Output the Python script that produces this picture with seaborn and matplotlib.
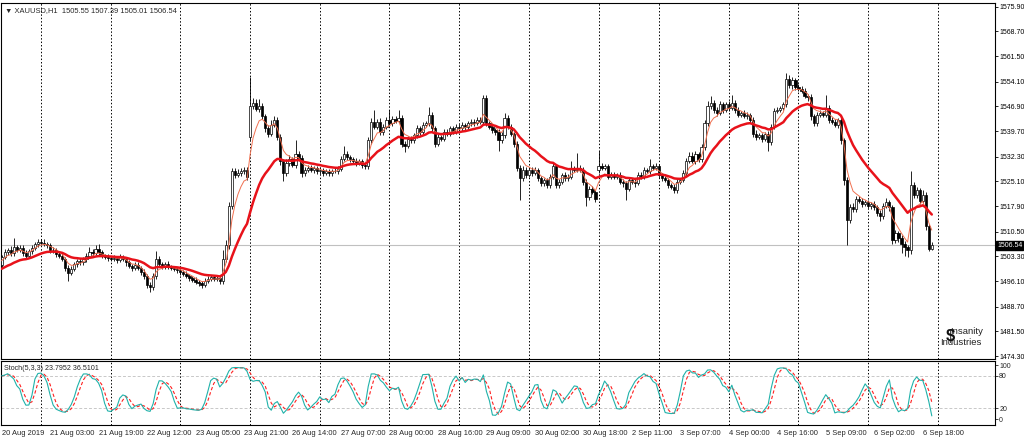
import numpy as np
import pandas as pd
import matplotlib
matplotlib.use("Agg")
import matplotlib.pyplot as plt
import seaborn as sns

# ---------------- data ----------------
symbol_text = "XAUUSD,H1  1505.55 1507.39 1505.01 1506.54"
stoch_text = "Stoch(5,3,3) 23.7952 36.5101"

# trading days: (date, first hour, number of hourly bars)
day_specs = [("2019-08-20", 10, 13), ("2019-08-21", 0, 23), ("2019-08-22", 0, 23),
             ("2019-08-23", 0, 23), ("2019-08-26", 0, 23), ("2019-08-27", 0, 23),
             ("2019-08-28", 0, 23), ("2019-08-29", 0, 23), ("2019-08-30", 0, 23),
             ("2019-09-02", 0, 20), ("2019-09-03", 0, 23), ("2019-09-04", 0, 23),
             ("2019-09-05", 0, 23), ("2019-09-06", 0, 22)]

close_0820 = [1503, 1504.5, 1505, 1504.2, 1506, 1505.2, 1505.8, 1504.3, 1503.5, 1504.8, 1505.8, 1507, 1507.5]
close_0821 = [1507.3, 1507, 1506.5, 1505.2, 1505, 1504, 1503.5, 1502.5, 1500, 1498.5, 1499.5, 1501, 1502,
              1501.5, 1502.5, 1503.5, 1504.5, 1504.2, 1505.5, 1504.5, 1503.5, 1503.2, 1502.8]
close_0822 = [1502.5, 1502.8, 1502.2, 1503, 1502.5, 1501.5, 1500.5, 1499.8, 1500.8, 1500, 1498.8, 1497.5,
              1495, 1494.3, 1497.5, 1502.5, 1501, 1500.3, 1501, 1500.2, 1500, 1499.5, 1499.2]
close_0823 = [1498.8, 1498.2, 1497.5, 1497, 1496.5, 1495.8, 1495.5, 1495, 1496, 1496.8, 1497.2, 1496.8,
              1497, 1496, 1502.5, 1506.5, 1518, 1528, 1527, 1527.5, 1528, 1528.5, 1526.5]
close_0826 = [1547, 1547.8, 1546.2, 1547, 1544, 1540.5, 1539, 1541.5, 1543, 1538, 1531, 1527.5, 1530.5,
              1531.5, 1530, 1533, 1532, 1527.5, 1528.5, 1529, 1528.3, 1529, 1528]
close_0827 = [1528.5, 1527.5, 1528, 1527.5, 1528.2, 1528, 1528.8, 1531.5, 1533, 1532.2, 1531.5, 1531,
              1530.5, 1531, 1530, 1529.5, 1537, 1542.5, 1541, 1542.5, 1539.5, 1541, 1543]
close_0828 = [1542, 1543.3, 1542.8, 1543.5, 1536, 1535.5, 1537.5, 1537, 1538.5, 1540.5, 1539.5, 1541.5,
              1542, 1544.5, 1540.5, 1536, 1538, 1537.5, 1539.5, 1539, 1540.5, 1539.5, 1541]
close_0829 = [1540.5, 1541.5, 1540.8, 1542, 1542.5, 1542, 1543, 1542.5, 1549.3, 1542, 1541, 1540, 1539.5,
              1537, 1538.5, 1543.5, 1541, 1539, 1536, 1529, 1526, 1528.5, 1527]
close_0830 = [1528.5, 1527.5, 1528.5, 1526, 1524.5, 1525.5, 1524, 1526.5, 1529.5, 1524, 1525, 1527, 1526,
              1526.5, 1529, 1528.5, 1529, 1528.5, 1525, 1520.5, 1523, 1522, 1520]
close_0902 = [1529.5, 1529, 1529.5, 1526.5, 1527, 1526.5, 1527, 1525, 1524.5, 1523, 1525.5, 1525, 1524.5,
              1527, 1526.5, 1528.5, 1528, 1529.5, 1529, 1529.5]
close_0903 = [1527, 1526, 1525.5, 1524, 1523.5, 1522.5, 1525, 1525.5, 1527.5, 1531, 1532.5, 1531, 1533,
              1531.5, 1535, 1542, 1547, 1548, 1546, 1545, 1547.5, 1546, 1547.5]
close_0904 = [1546.5, 1548, 1546, 1544.5, 1545, 1544, 1544.5, 1543, 1539, 1538, 1538.5, 1537.5, 1539,
              1536.5, 1541, 1545.5, 1546, 1546.5, 1547.5, 1555, 1553, 1554.5, 1552.5]
close_0905 = [1552, 1551.5, 1550, 1549.5, 1544, 1542, 1544.5, 1545, 1544.5, 1546.5, 1543, 1542.5, 1541.5,
              1543, 1537, 1525.5, 1514, 1517.5, 1517, 1520, 1519.5, 1518.5, 1519]
close_0906 = [1518, 1518.5, 1517.5, 1516, 1515, 1518, 1519, 1517.5, 1508, 1510, 1508.5, 1507, 1506, 1505,
              1524, 1521, 1522.5, 1519.5, 1521, 1512, 1505.55, 1506.54]

# wick lengths above / below the body
up_0820 = [0.8, 1.0, 0.7, 1.2, 2.7, 0.6, 0.9, 0.7, 0.8, 0.6, 0.9, 0.6, 0.8]
dn_0820 = [1.0, 0.6, 0.8, 0.7, 0.9, 0.7, 0.6, 0.8, 0.9, 0.6, 0.7, 0.6, 0.9]
up_0821 = [0.7, 0.9, 0.6, 0.8, 0.7, 0.6, 0.8, 0.7, 0.6, 0.8, 0.9, 0.7, 0.6, 0.9, 0.7, 0.8, 1.5, 0.9, 1.1, 1.5, 0.7, 0.6, 0.8]
dn_0821 = [0.6, 0.8, 0.7, 0.9, 0.6, 0.8, 0.7, 0.6, 0.9, 2.5, 0.7, 0.6, 0.8, 0.7, 0.6, 0.8, 0.7, 0.9, 0.6, 0.8, 0.7, 0.6, 0.8]
up_0822 = [0.6, 0.8, 0.7, 0.9, 0.6, 0.7, 0.8, 0.6, 0.9, 0.7, 0.6, 0.8, 0.7, 0.9, 1.0, 2.2, 0.8, 0.7, 0.6, 0.8, 0.7, 0.6, 0.7]
dn_0822 = [0.7, 0.6, 0.8, 0.7, 0.6, 0.9, 0.7, 0.8, 0.6, 0.7, 0.9, 0.8, 1.0, 1.3, 0.8, 0.9, 0.7, 0.8, 0.6, 0.7, 0.8, 0.6, 0.7]
up_0823 = [0.7, 0.6, 0.8, 0.7, 0.6, 0.8, 0.7, 0.6, 0.9, 0.7, 0.8, 0.6, 0.7, 0.8, 2.5, 1.5, 1.2, 1.0, 0.9, 1.2, 1.0, 0.8, 0.7]
dn_0823 = [0.8, 0.7, 0.6, 0.8, 0.7, 0.6, 0.8, 0.9, 0.7, 0.6, 0.8, 0.7, 0.6, 0.8, 0.7, 0.9, 1.0, 0.8, 1.0, 0.7, 0.8, 0.9, 1.0]
up_0826 = [8.6, 1.6, 1.2, 2.0, 0.9, 0.8, 1.0, 1.5, 1.2, 0.9, 0.8, 0.7, 1.0, 1.2, 0.8, 4.2, 0.9, 0.8, 0.7, 0.9, 0.8, 0.7, 0.6]
dn_0826 = [1.0, 0.8, 0.7, 0.9, 0.8, 1.0, 0.9, 0.8, 0.7, 1.0, 1.2, 2.4, 0.9, 0.8, 0.7, 0.9, 0.8, 1.0, 0.7, 0.8, 0.6, 0.7, 0.8]
up_0827 = [0.7, 0.6, 0.8, 0.7, 0.6, 0.8, 0.7, 0.9, 2.5, 0.8, 0.7, 0.6, 0.8, 0.7, 0.6, 0.7, 1.0, 0.9, 3.3, 0.8, 0.9, 0.7, 0.8]
dn_0827 = [0.8, 0.7, 0.6, 0.8, 0.7, 0.6, 0.8, 0.7, 0.6, 0.8, 0.7, 0.6, 0.8, 0.7, 0.9, 0.8, 0.7, 0.9, 0.8, 0.7, 1.0, 0.8, 0.7]
up_0828 = [3.0, 0.8, 0.7, 2.5, 0.8, 0.9, 0.7, 0.8, 0.6, 0.9, 0.7, 0.8, 0.6, 2.2, 0.9, 0.7, 0.8, 0.6, 0.7, 0.8, 0.6, 0.7, 0.8]
dn_0828 = [0.7, 0.8, 0.6, 0.7, 0.9, 1.8, 0.7, 0.8, 0.6, 0.7, 0.8, 0.6, 0.7, 0.8, 0.9, 1.0, 0.7, 0.8, 0.6, 0.7, 0.8, 0.7, 0.6]
up_0829 = [0.7, 0.8, 0.6, 0.7, 0.8, 0.6, 0.7, 0.8, 1.0, 0.9, 0.7, 0.8, 0.6, 0.7, 0.9, 1.6, 0.8, 0.7, 0.6, 0.8, 0.9, 1.0, 0.7]
dn_0829 = [0.6, 0.7, 0.8, 0.6, 0.7, 0.8, 0.6, 0.7, 0.8, 0.9, 0.7, 0.8, 0.9, 3.2, 0.8, 0.7, 0.6, 0.8, 0.9, 1.0, 6.3, 0.9, 0.8]
up_0830 = [0.8, 0.7, 0.9, 0.6, 0.8, 0.7, 0.6, 0.8, 1.0, 0.7, 0.8, 0.6, 0.7, 0.8, 2.0, 0.7, 4.4, 0.8, 0.7, 0.9, 0.8, 0.7, 0.6]
dn_0830 = [0.7, 0.8, 0.6, 0.9, 0.7, 0.8, 0.9, 0.7, 0.6, 0.8, 0.7, 0.6, 0.8, 0.7, 0.6, 0.8, 0.7, 0.6, 0.9, 2.5, 0.8, 0.7, 1.0]
up_0902 = [4.3, 0.8, 0.7, 0.6, 0.8, 0.7, 0.6, 0.8, 0.7, 0.6, 0.9, 0.7, 0.8, 0.9, 0.7, 0.8, 0.6, 2.0, 0.7, 0.8]
dn_0902 = [0.8, 0.7, 0.6, 0.8, 0.7, 0.6, 0.8, 0.7, 0.9, 3.3, 0.8, 0.7, 0.9, 0.6, 0.8, 0.7, 0.6, 0.8, 0.7, 0.6]
up_0903 = [0.7, 0.6, 0.8, 0.7, 0.6, 0.8, 0.9, 0.7, 0.8, 0.9, 1.0, 1.2, 0.8, 0.7, 0.9, 1.0, 1.5, 2.0, 0.8, 0.7, 0.9, 0.8, 0.7]
dn_0903 = [0.8, 0.7, 0.6, 0.8, 0.7, 0.8, 0.9, 0.7, 0.6, 0.8, 0.7, 0.6, 0.8, 0.7, 0.9, 0.8, 0.7, 0.9, 1.0, 0.8, 0.7, 0.9, 0.8]
up_0904 = [0.9, 2.3, 0.8, 0.7, 0.6, 0.8, 0.7, 0.6, 0.8, 0.9, 0.7, 0.8, 0.6, 0.7, 0.9, 0.8, 0.7, 0.6, 0.8, 1.6, 1.0, 0.9, 0.8]
dn_0904 = [0.8, 0.7, 0.9, 0.8, 0.7, 0.6, 0.8, 0.9, 1.0, 0.8, 0.7, 0.9, 0.8, 2.7, 0.8, 0.7, 0.6, 0.8, 0.7, 0.9, 0.8, 1.0, 0.9]
up_0905 = [0.9, 0.8, 0.7, 0.6, 0.9, 0.8, 0.7, 0.8, 0.6, 3.8, 0.9, 0.7, 0.8, 0.6, 0.8, 0.7, 0.9, 1.0, 1.2, 0.8, 0.9, 0.7, 0.8]
dn_0905 = [0.7, 0.8, 0.6, 0.9, 1.0, 0.9, 0.7, 0.8, 0.6, 0.7, 0.9, 0.8, 0.7, 0.8, 1.0, 1.5, 7.4, 0.9, 0.8, 0.7, 0.8, 0.9, 0.7]
up_0906 = [0.8, 0.7, 0.9, 0.6, 0.8, 0.9, 1.2, 0.7, 0.8, 1.0, 0.7, 0.9, 0.8, 0.7, 4.0, 1.0, 0.9, 0.8, 1.5, 0.9, 0.8, 0.85]
dn_0906 = [0.7, 0.8, 0.6, 0.9, 1.5, 0.8, 0.7, 0.9, 1.0, 0.8, 0.9, 2.8, 2.7, 2.0, 0.9, 0.8, 0.7, 0.9, 0.8, 1.0, 0.6, 0.54]

# opens that differ from the previous close (session gaps / first bar)
gap_opens = {"2019-08-20 10:00": 1500.8, "2019-08-26 00:00": 1538.0, "2019-09-02 00:00": 1528.4}
# indicator values at the left edge of the chart
ema_fast_start = 1501.5
ema_slow_start = 1499.3

price_ticks = [1575.90, 1568.70, 1561.50, 1554.10, 1546.90, 1539.70, 1532.30, 1525.10,
               1517.90, 1510.50, 1503.30, 1496.10, 1488.70, 1481.50, 1474.30]
stoch_ticks = [100, 80, 20, 0]
time_labels = ["20 Aug 2019", "21 Aug 03:00", "21 Aug 19:00", "22 Aug 12:00", "23 Aug 05:00",
               "23 Aug 21:00", "26 Aug 14:00", "27 Aug 07:00", "28 Aug 00:00", "28 Aug 16:00",
               "29 Aug 09:00", "30 Aug 02:00", "30 Aug 18:00", "2 Sep 11:00", "3 Sep 07:00",
               "4 Sep 00:00", "4 Sep 16:00", "5 Sep 09:00", "6 Sep 02:00", "6 Sep 18:00"]

# ---------------- assemble ----------------
closes = [close_0820, close_0821, close_0822, close_0823, close_0826, close_0827, close_0828,
          close_0829, close_0830, close_0902, close_0903, close_0904, close_0905, close_0906]
ups = [up_0820, up_0821, up_0822, up_0823, up_0826, up_0827, up_0828, up_0829, up_0830,
       up_0902, up_0903, up_0904, up_0905, up_0906]
dns = [dn_0820, dn_0821, dn_0822, dn_0823, dn_0826, dn_0827, dn_0828, dn_0829, dn_0830,
       dn_0902, dn_0903, dn_0904, dn_0905, dn_0906]

times, day_start = [], []
for (d, h0, n), cl, u, dd in zip(day_specs, closes, ups, dns):
    assert len(cl) == n and len(u) == n and len(dd) == n, d
    day_start.append(len(times))
    for k in range(n):
        times.append(pd.Timestamp(d) + pd.Timedelta(hours=h0 + k))

c = np.array(sum(closes, []), dtype=float)
wu = np.array(sum(ups, []), dtype=float)
wd = np.array(sum(dns, []), dtype=float)
gap = {pd.Timestamp(k): v for k, v in gap_opens.items()}
o = np.empty_like(c)
for i, t in enumerate(times):
    o[i] = gap[t] if t in gap else c[i - 1]
hi = np.maximum(o, c) + wu
lo = np.minimum(o, c) - wd
idx = np.arange(len(c))

def ema(vals, span, seed):
    a = 2.0 / (span + 1)
    out, prev = [], seed
    for v in vals:
        prev = prev + a * (v - prev)
        out.append(prev)
    return np.array(out)

ma_fast = ema(c, 5, ema_fast_start)
ma_slow = ema(c, 20, ema_slow_start)

s_lo = pd.Series(lo).rolling(5, min_periods=1).min()
s_hi = pd.Series(hi).rolling(5, min_periods=1).max()
num = (pd.Series(c) - s_lo).rolling(3, min_periods=1).sum()
den = (s_hi - s_lo).rolling(3, min_periods=1).sum()
st_main = (100 * num / den).to_numpy()
st_sig = pd.Series(st_main).rolling(3, min_periods=1).mean().to_numpy()

# ---------------- drawing ----------------
sns.set_style("white")
plt.rcParams["font.family"] = ["Liberation Sans", "DejaVu Sans"]
FS = 5.4
FS_AX = 5.0

W, H = 1024, 440
fig = plt.figure(figsize=(W / 100, H / 100), dpi=100)
fig.patch.set_facecolor("white")
ax = fig.add_axes([1 / W, 1 - 359 / H, 994 / W, 356 / H])
ax2 = fig.add_axes([1 / W, 1 - 425 / H, 994 / W, 64 / H])

x_left = (1 - 1.6) / 3.03
x_right = (995 - 1.6) / 3.03
seps = day_start[1:] + [day_start[-1] + 23]

for a in (ax, ax2):
    a.set_facecolor("white")
    a.set_xlim(x_left, x_right)
    for s in a.spines.values():
        s.set_color("black")
        s.set_linewidth(0.8)
    for sx in seps:
        a.axvline(sx, color="black", lw=0.7, ls=(0, (1.5, 2)), zorder=1)

# main price panel
ax.set_ylim(1473.43, 1576.98)
ax.axhline(c[-1], color="#c0c0c0", lw=0.8, zorder=1)
ax.vlines(idx, lo, hi, color="black", lw=0.6, zorder=2)
bull = c >= o
bear = ~bull
ax.bar(idx[bull], np.maximum(c[bull] - o[bull], 0.15), bottom=o[bull], width=0.72,
       color="white", edgecolor="black", linewidth=0.5, zorder=3)
ax.bar(idx[bear], np.maximum(o[bear] - c[bear], 0.15), bottom=c[bear], width=0.72,
       color="black", edgecolor="black", linewidth=0.5, zorder=3)
sns.lineplot(x=idx, y=ma_fast, ax=ax, color="#f07050", lw=0.7, zorder=4)
sns.lineplot(x=idx, y=ma_slow, ax=ax, color="#e8121a", lw=1.8, zorder=5)

ax.yaxis.tick_right()
ax.set_yticks(price_ticks)
ax.set_yticklabels([f"{v:.2f}" for v in price_ticks], fontsize=FS_AX)
ax.tick_params(axis="y", length=2, width=0.6, pad=1, colors="black")
ax.set_xticks([])
ax.set_xlabel("")
ax.set_ylabel("")
ax.text(0.004, 0.988, "\u25bc " + symbol_text, transform=ax.transAxes, fontsize=FS,
        va="top", ha="left", family=["Liberation Sans", "DejaVu Sans"])
ax.annotate(f"{c[-1]:.2f}", xy=(1.0, c[-1]), xycoords=("axes fraction", "data"),
            xytext=(1.5, 0), textcoords="offset points", fontsize=FS_AX, color="white",
            va="center", ha="left", annotation_clip=False,
            bbox=dict(boxstyle="square,pad=0.12", fc="black", ec="black"))
# watermark logo
ax.text(0.9545, 0.077, "Insanity", transform=ax.transAxes, fontsize=6.8, ha="left",
        va="center", color="#222222")
ax.text(0.9445, 0.047, "Industries", transform=ax.transAxes, fontsize=6.8, ha="left",
        va="center", color="#222222")
ax.text(0.9555, 0.062, "$", transform=ax.transAxes, fontsize=12, ha="center",
        va="center", color="#111111", fontweight="bold")

# stochastic panel
ax2.set_ylim(-10.5, 107.4)
for lv in (20, 80):
    ax2.axhline(lv, color="#c8c8c8", lw=0.7, ls=(0, (3, 2)), zorder=1)
sns.lineplot(x=idx, y=st_main, ax=ax2, color="#20b2aa", lw=0.8, zorder=3)
sns.lineplot(x=idx, y=st_sig, ax=ax2, color="#ff2020", lw=0.8, zorder=2, linestyle=(0, (3, 2)))
ax2.yaxis.tick_right()
ax2.set_yticks(stoch_ticks)
ax2.set_yticklabels([str(v) for v in stoch_ticks], fontsize=FS_AX)
ax2.tick_params(axis="y", length=2, width=0.6, pad=1)
ax2.set_ylabel("")
ax2.text(0.003, 0.93, stoch_text, transform=ax2.transAxes, fontsize=FS - 0.3,
         va="top", ha="left")

# time axis labels
pos = []
for lab in time_labels:
    parts = lab.split()
    if ":" in parts[-1]:
        t = pd.Timestamp(f"2019 {parts[1]} {parts[0]} {parts[2]}")
        pos.append(times.index(t))
    else:
        pos.append(0)
ax2.set_xticks(pos)
ax2.set_xticklabels(time_labels, fontsize=FS, ha="left")
ax2.tick_params(axis="x", length=2, width=0.6, pad=1.5)
ax2.set_xlabel("")

fig.savefig("out.png", dpi=100, facecolor="white")
